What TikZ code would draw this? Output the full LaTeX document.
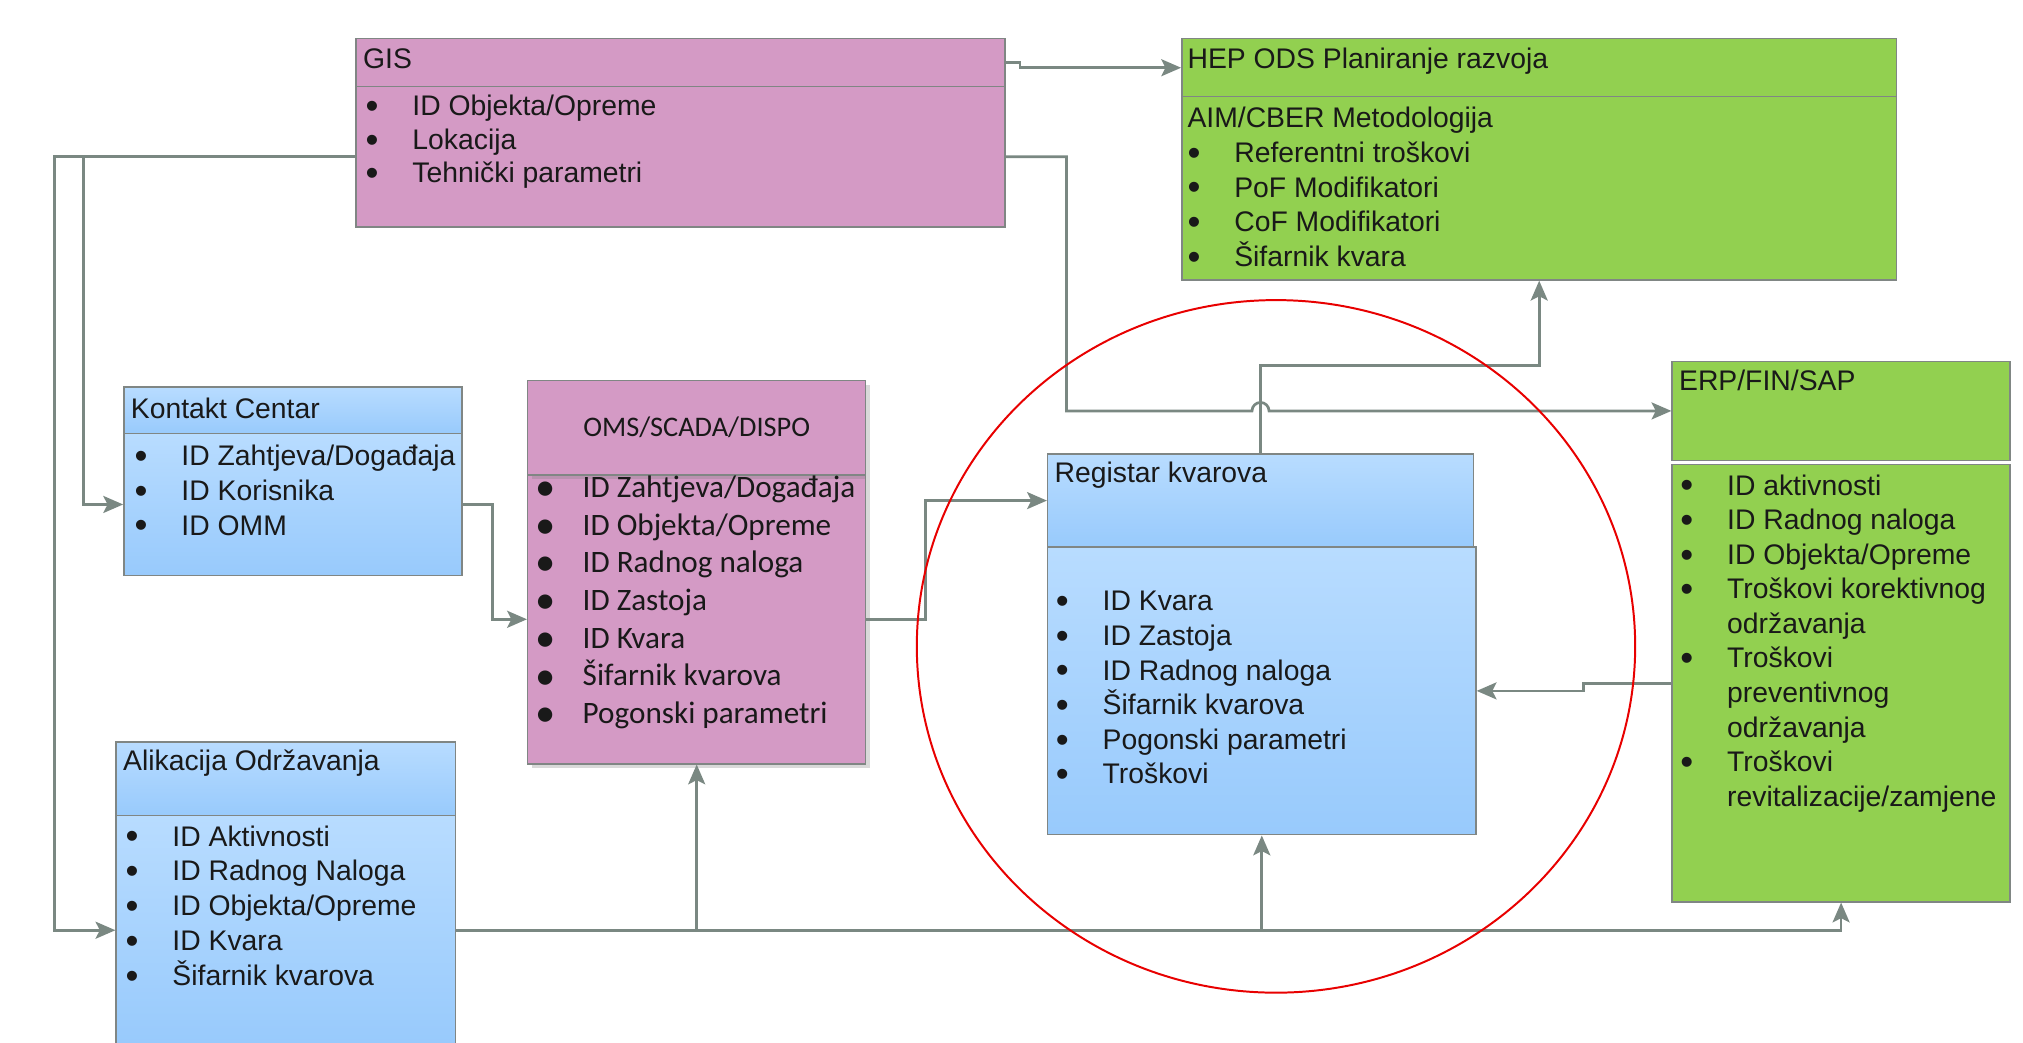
\documentclass[tikz,border=0pt]{standalone}
\usepackage{fontspec}
\setmainfont{Liberation Sans}
\newfontfamily\omsfont{Carlito}
\usepackage{tikz}
\usetikzlibrary{arrows.meta,fit,calc,shadows}
\definecolor{gispink}{RGB}{212,154,197}
\definecolor{hepgreen}{RGB}{146,208,80}
\definecolor{bluetop}{RGB}{184,220,255}
\definecolor{bluebot}{RGB}{152,202,252}
\definecolor{boxline}{RGB}{128,134,132}
\definecolor{linegray}{RGB}{122,136,130}
\definecolor{ringred}{RGB}{232,0,0}
\newcommand{\itm}{\makebox[0.58cm][l]{\raisebox{-0.1em}{\scalebox{1.3}{\textbullet}}}}
\newcommand{\cnt}{\hspace*{0.58cm}}
\tikzset{
  part/.style={inner sep=0pt, draw=boxline, line width=0.5pt},
  pinkpart/.style={part, fill=gispink},
  greenpart/.style={part, fill=hepgreen},
  bluepart/.style={part, top color=bluetop, bottom color=bluebot},
  txt/.style={anchor=base west, inner sep=0pt, align=left, text=black!90,
    font=\fontsize{10}{12.2}\selectfont},
  lst/.style={txt, anchor=north west, execute at begin node={\rule{0pt}{8pt}}},
  conn/.style={draw=linegray, line width=0.95pt},
}
\begin{document}
\begin{tikzpicture}[x=0.016cm,y=-0.016cm,>={Stealth[length=7pt,width=6pt,inset=1.5pt]}]
  \clip (0,0) rectangle (1568,808);
  \node[pinkpart, fit={(276,30) (779,67)}] (gis) {};
  \node[pinkpart, fit={(276,67) (779,176)}] (gisb) {};
  \node[greenpart, fit={(916,30) (1470,75)}] (hep) {};
  \node[greenpart, fit={(916,75) (1470,217)}] (hepb) {};
  \node[bluepart, fit={(96,300) (358,336)}] (kc) {};
  \node[bluepart, fit={(96,336) (358,446)}] (kcb) {};
  \node[pinkpart, drop shadow={opacity=0.3,shadow xshift=1.5pt,shadow yshift=-1.5pt}, fit={(409,368) (671,592)}] (omsb) {};
  \node[pinkpart, drop shadow={opacity=0.3,shadow xshift=1.5pt,shadow yshift=-1.5pt}, fit={(409,295) (671,368)}] (oms) {};
  \node[bluepart, fit={(812,352) (1142,424)}] (reg) {};
  \node[bluepart, fit={(812,424) (1144,647)}] (regb) {};
  \node[greenpart, fit={(1296,280) (1558,357)}] (erp) {};
  \node[greenpart, fit={(1296,360) (1558,699)}] (erpb) {};
  \node[bluepart, fit={(90,575) (353,632)}] (ali) {};
  \node[bluepart, fit={(90,632) (353,810)}] (alib) {};

  \node[txt] (gist) at (281,53) {GIS};
  \node[lst, font=\fontsize{10}{11.8}\selectfont] (gisl) at (283,73.4)
    {\itm ID Objekta/Opreme\\ \itm Lokacija\\ \itm Tehnički parametri};
  \node[txt] (hept) at (920,53) {HEP ODS Planiranje razvoja};
  \node[lst, font=\fontsize{10}{12.3}\selectfont] (hepl) at (920,82.4)
    {AIM/CBER Metodologija\\ \itm Referentni troškovi\\ \itm PoF Modifikatori\\
     \itm CoF Modifikatori\\ \itm Šifarnik kvara};
  \node[txt] (kct) at (101,324) {Kontakt Centar};
  \node[lst, font=\fontsize{10}{12.3}\selectfont] (kcl) at (104,344.4)
    {\itm ID Zahtjeva/Događaja\\ \itm ID Korisnika\\ \itm ID OMM};
  \node[inner sep=0pt, font=\omsfont\fontsize{10}{12}\selectfont, text=black!90] (omst) at (oms.center) {OMS/SCADA/DISPO};
  \node[lst, font=\omsfont\fontsize{11}{13.3}\selectfont] (omsl) at (415,368.4)
    {\itm ID Zahtjeva/Događaja\\ \itm ID Objekta/Opreme\\ \itm ID Radnog naloga\\
     \itm ID Zastoja\\ \itm ID Kvara\\ \itm Šifarnik kvarova\\ \itm Pogonski parametri};
  \node[txt] (regt) at (817,374) {Registar kvarova};
  \node[lst] (regl) at (818,458)
    {\itm ID Kvara\\ \itm ID Zastoja\\ \itm ID Radnog naloga\\
     \itm Šifarnik kvarova\\ \itm Pogonski parametri\\ \itm Troškovi};
  \node[txt] (erpt) at (1301,303) {ERP/FIN/SAP};
  \node[lst] (erpl) at (1302,367.4)
    {\itm ID aktivnosti\\ \itm ID Radnog naloga\\ \itm ID Objekta/Opreme\\
     \itm Troškovi korektivnog\\ \cnt održavanja\\ \itm Troškovi\\ \cnt preventivnog\\
     \cnt održavanja\\ \itm Troškovi\\ \cnt revitalizacije/zamjene};
  \node[txt] (alit) at (95,597) {Alikacija Održavanja};
  \node[lst, font=\fontsize{10}{12.3}\selectfont] (alil) at (97,639.4)
    {\itm ID Aktivnosti\\ \itm ID Radnog Naloga\\ \itm ID Objekta/Opreme\\
     \itm ID Kvara\\ \itm Šifarnik kvarova};

  \draw[conn,->] (gis.east) -- ++(11,0) |- (hep.west);
  \draw[conn,->] (gisb.east) -- ++(47,0) |- ($(reg.north |- erp.west)+(-3pt,0)$)
    arc[start angle=180, end angle=0, radius=3pt] -- (erp.west);
  \draw[conn,->] (gisb.west) -| ($(kcb.west)+(-31,0)$) -- (kcb.west);
  \draw[conn,->] (gisb.west) -| ($(alib.west)+(-47,0)$) -- (alib.west);
  \draw[conn,->] (kcb.east) -- ++(23,0) |- (omsb.west);
  \draw[conn,->] (omsb.east) -- ++(46,0) |- (reg.west);
  \draw[conn,->] (reg.north) -- ++(0,-68) -| (hepb.south);
  \draw[conn,->] (erpb.west) -- ++(-68,0) |- (regb.east);
  \draw[conn,->] (alib.east) -| (erpb.south);
  \draw[conn,->] (omsb.south |- alib.east) -- (omsb.south);
  \draw[conn,->] (regb.south |- alib.east) -- (regb.south);

  \draw[ringred, line width=0.7pt] (989,501) ellipse [x radius=4.456cm, y radius=4.296cm];
\end{tikzpicture}
\end{document}
